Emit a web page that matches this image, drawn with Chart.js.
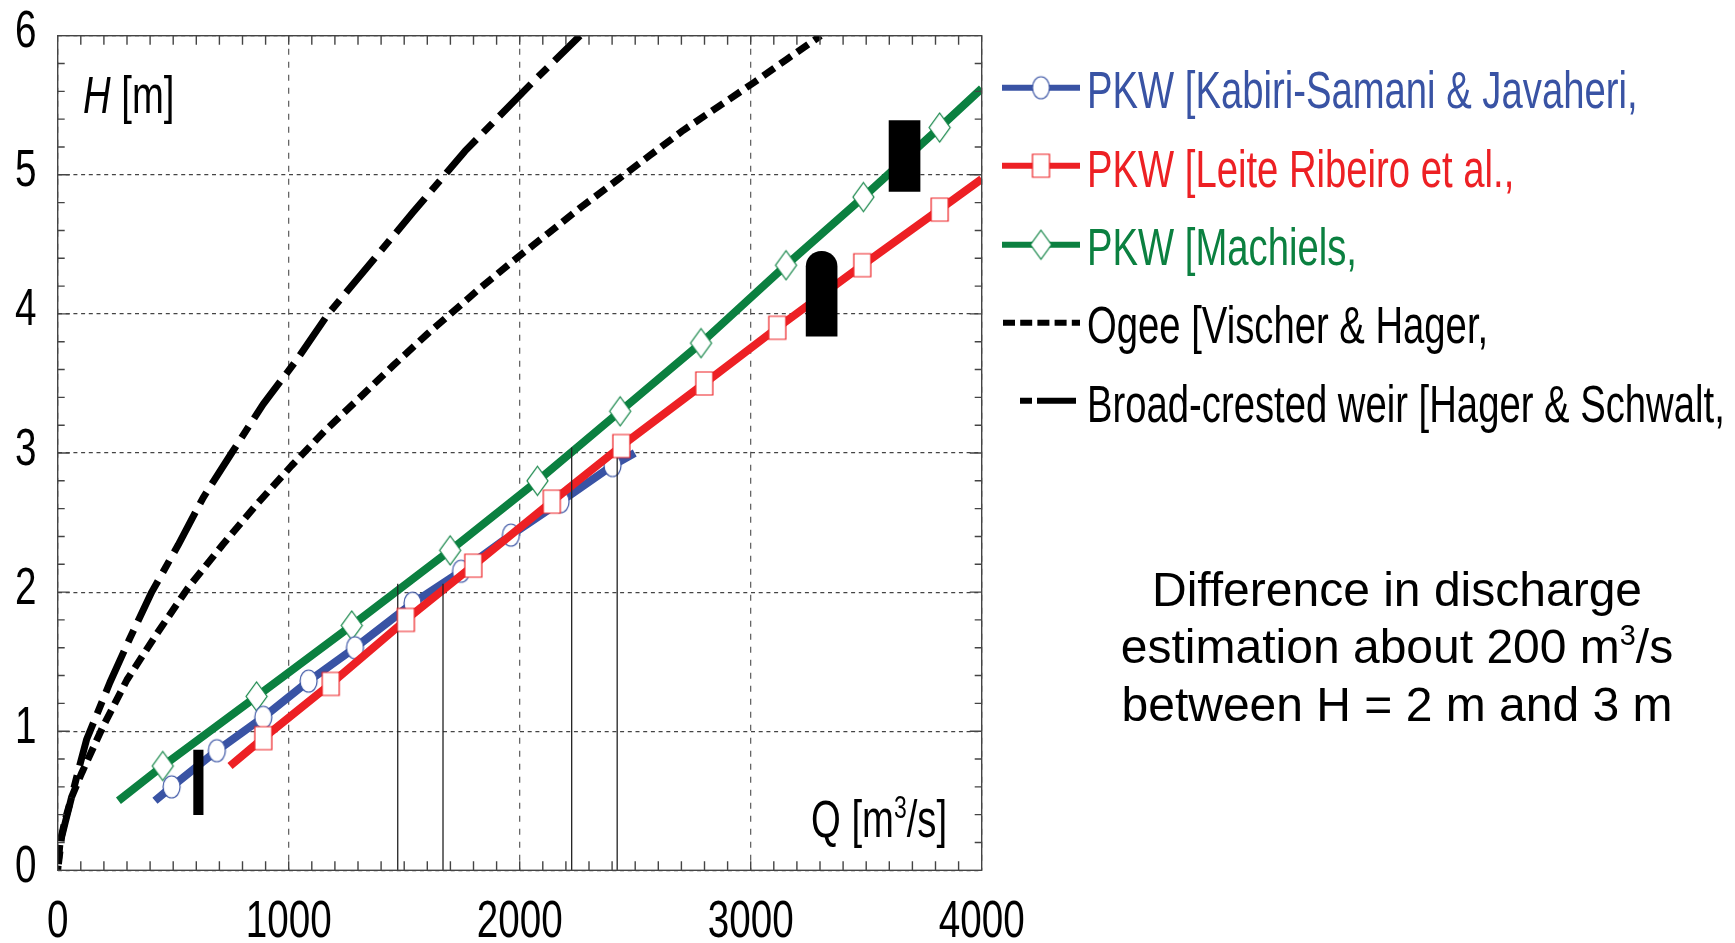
<!DOCTYPE html>
<html><head><meta charset="utf-8">
<style>
html,body{margin:0;padding:0;background:#fff;overflow:hidden}
#wrap{position:relative;width:1735px;height:943px;overflow:hidden}
canvas{position:absolute;left:0;top:0}
.t{position:absolute;white-space:nowrap;font-family:"Liberation Sans",Arial,sans-serif;transform-origin:0 0;line-height:1;color:#000}
.n{font-size:51px;transform:scaleX(.75)}
.d{font-size:48px;text-align:center;width:700px;left:1047px}
sup{font-size:.6em;line-height:0;vertical-align:.62em}
</style>
<script src="https://cdn.jsdelivr.net/npm/chart.js@4"></script>
</head><body><div id="wrap">
<canvas id="c" width="1735" height="943"></canvas>
<div class="t n" style="left:83px;top:70px"><i>H</i> [m]</div>
<div class="t n" style="left:811px;top:794px">Q [m<sup>3</sup>/s]</div>
<div class="t n" style="left:1087px;top:65px;color:#3953a4">PKW [Kabiri-Samani &amp; Javaheri,</div>
<div class="t n" style="left:1087px;top:144px;color:#ed2024">PKW [Leite Ribeiro et al.,</div>
<div class="t n" style="left:1087px;top:222px;color:#0b8040">PKW [Machiels,</div>
<div class="t n" style="left:1087px;top:300px">Ogee [Vischer &amp; Hager,</div>
<div class="t n" style="left:1087px;top:379px">Broad-crested weir [Hager &amp; Schwalt,</div>
<div class="t d" style="top:566px">Difference in discharge</div>
<div class="t d" style="top:623px">estimation about 200 m<sup>3</sup>/s</div>
<div class="t d" style="top:681px">between H = 2 m and 3 m</div>
</div>
<script>
// Values
const xTicks = [0, 1000, 2000, 3000, 4000];
const yTicks = [0, 1, 2, 3, 4, 5, 6];

const kabiriQ = [421, 493, 689, 890, 1086, 1287, 1536, 1746, 1962, 2177, 2402, 2498];
const kabiriH = [0.50, 0.60, 0.86, 1.10, 1.36, 1.60, 1.92, 2.15, 2.41, 2.65, 2.91, 3.00];

const leiteQ = [746, 890, 1182, 1507, 1799, 2139, 2440, 2799, 3115, 3483, 3818, 4000];
const leiteH = [0.75, 0.95, 1.34, 1.80, 2.19, 2.65, 3.05, 3.50, 3.90, 4.35, 4.75, 4.97];

const machielsQ = [263, 455, 861, 1273, 1699, 2077, 2435, 2785, 3153, 3488, 3818, 4000];
const machielsH = [0.50, 0.75, 1.25, 1.76, 2.30, 2.80, 3.30, 3.79, 4.35, 4.84, 5.34, 5.62];

const ogeeQ = [0, 10, 32, 61, 104, 195, 300, 429, 564, 714, 861, 1013, 1157, 1309, 1453, 1603, 1825, 1971, 2124, 2268, 2420, 2564, 2708, 2860, 3011, 3156, 3303];
const ogeeH = [0, 0.20, 0.36, 0.53, 0.70, 1.03, 1.37, 1.70, 2.03, 2.34, 2.63, 2.91, 3.16, 3.40, 3.63, 3.86, 4.18, 4.38, 4.58, 4.77, 4.96, 5.14, 5.32, 5.49, 5.66, 5.83, 6.00];

const broadQ = [0, 17, 32, 82, 125, 226, 313, 407, 522, 630, 753, 889, 1035, 1171, 1538, 1763, 2059, 2261];
const broadH = [0, 0.24, 0.34, 0.67, 0.94, 1.35, 1.67, 2.00, 2.34, 2.68, 3.00, 3.35, 3.67, 4.00, 4.73, 5.17, 5.67, 6.00];

const guideQ = [1472, 1668, 2225, 2422];
const guideTop = [2.06, 2.06, 3.04, 3.04];

const blockQ = [609, 3307, 3666];
const blockLow = [0.40, 3.84, 4.88];
const blockHigh = [0.865, 4.45, 5.39];

const BLUE = '#3953a4', RED = '#ed2024', GREEN = '#0b8040';
const pts = (xs, ys) => xs.map((x, i) => ({x, y: ys[i]}));

function marker(w, h, color, kind) {
  const c = document.createElement('canvas');
  c.width = w + 4; c.height = h + 4;
  const g = c.getContext('2d');
  g.translate(c.width / 2, c.height / 2);
  g.fillStyle = '#fff'; g.strokeStyle = color; g.lineWidth = 1.2;
  g.beginPath();
  if (kind === 'e') g.ellipse(0, 0, w / 2, h / 2, 0, 0, Math.PI * 2);
  if (kind === 'r') g.rect(-w / 2, -h / 2, w, h);
  if (kind === 'd') { g.moveTo(0, -h / 2); g.lineTo(w / 2, 0); g.lineTo(0, h / 2); g.lineTo(-w / 2, 0); g.closePath(); }
  g.fill(); g.stroke();
  return c;
}
const mkCircle = marker(17, 22, BLUE, 'e');
const mkSquare = marker(17, 23, RED, 'r');
const mkDiamond = marker(21, 29, GREEN, 'd');

const inner = a => a.map((_, i) => (i === 0 || i === a.length - 1) ? 0 : 8);

const lineBase = {type: 'line', tension: 0, borderCapStyle: 'butt', borderJoinStyle: 'round', fill: false, pointRadius: 0};

const datasets = [
  {type: 'bar', label: 'block 1', data: [{x: blockQ[0], y: [blockLow[0], blockHigh[0]]}], backgroundColor: '#000', barThickness: 9.5, grouped: false, borderSkipped: false, order: 0},
  {type: 'bar', label: 'block 2', data: [{x: blockQ[1], y: [blockLow[1], blockHigh[1]]}], backgroundColor: '#000', barThickness: 31, grouped: false, borderSkipped: false, borderRadius: {topLeft: 15.5, topRight: 15.5, bottomLeft: 0, bottomRight: 0}, order: 0},
  {type: 'bar', label: 'block 3', data: [{x: blockQ[2], y: [blockLow[2], blockHigh[2]]}], backgroundColor: '#000', barThickness: 31, grouped: false, borderSkipped: false, order: 0},
  {...lineBase, label: 'PKW [Leite Ribeiro et al., markers', data: pts(leiteQ, leiteH), showLine: false, pointStyle: mkSquare, pointRadius: inner(leiteQ), order: 1},
  ...guideQ.map((q, i) => ({...lineBase, label: 'guide ' + (i + 1), data: [{x: q, y: 0}, {x: q, y: guideTop[i]}], borderColor: '#222', borderWidth: 1.3, order: 2})),
  {...lineBase, label: 'PKW [Leite Ribeiro et al.,', data: pts(leiteQ, leiteH), borderColor: RED, borderWidth: 8, clip: 0, order: 3},
  {...lineBase, label: 'PKW [Kabiri-Samani & Javaheri,', data: pts(kabiriQ, kabiriH), borderColor: BLUE, borderWidth: 8, pointStyle: mkCircle, pointRadius: inner(kabiriQ), order: 4},
  {...lineBase, label: 'PKW [Machiels,', data: pts(machielsQ, machielsH), borderColor: GREEN, borderWidth: 8, pointStyle: mkDiamond, pointRadius: inner(machielsQ), clip: 0, order: 5},
  // dashed curves are traced from the top down so the dash phase lines up at the top edge
  {...lineBase, label: 'Ogee [Vischer & Hager,', data: pts(ogeeQ, ogeeH).reverse(), borderColor: '#000', borderWidth: 7, borderDash: [13.5, 7.2], borderDashOffset: 5.5, order: 6},
  {...lineBase, label: 'Broad-crested weir [Hager & Schwalt,', data: pts(broadQ, broadH).reverse(), borderColor: '#000', borderWidth: 7, borderDash: [45, 10, 13, 10], borderDashOffset: 9.3, order: 7},
];

const frame = {
  id: 'frame',
  afterDatasetsDraw(chart) {
    const {ctx, chartArea: a, scales: {x, y}} = chart;
    ctx.save();
    ctx.strokeStyle = '#444'; ctx.lineWidth = 1.4;
    ctx.strokeRect(a.left, a.top, a.right - a.left, a.bottom - a.top);
    ctx.beginPath();
    for (let q = 100; q < 4000; q += 100) {
      const p = x.getPixelForValue(q);
      ctx.moveTo(p, a.top); ctx.lineTo(p, a.top + 9);
      ctx.moveTo(p, a.bottom); ctx.lineTo(p, a.bottom - 9);
    }
    for (let k = 1; k < 30; k++) {
      const p = y.getPixelForValue(k / 5);
      const len = k % 5 === 0 ? 12 : 7;
      ctx.moveTo(a.left, p); ctx.lineTo(a.left + len, p);
      ctx.moveTo(a.right, p); ctx.lineTo(a.right - len, p);
    }
    ctx.stroke();
    ctx.restore();
  }
};

// Tick labels come from the scales; they are only condensed horizontally when painted.
const condensedTicks = {
  id: 'condensedTicks',
  afterDraw(chart) {
    const {ctx, scales: {x, y}} = chart;
    const K = 0.75;
    ctx.save();
    ctx.fillStyle = '#000';
    ctx.font = '51.5px "Liberation Sans", Arial, sans-serif';
    ctx.textBaseline = 'alphabetic';
    x.ticks.forEach((t, i) => {
      ctx.save();
      ctx.translate(x.getPixelForTick(i), 936.5);
      ctx.scale(K, 1);
      ctx.textAlign = 'center';
      ctx.fillText(String(t.value), 0, 0);
      ctx.restore();
    });
    y.ticks.forEach((t, i) => {
      ctx.save();
      ctx.translate(36.5, y.getPixelForTick(i) + 11.5);
      ctx.scale(K, 1);
      ctx.textAlign = 'right';
      ctx.fillText(String(t.value), 0, 0);
      ctx.restore();
    });
    ctx.restore();
  }
};

const legendKeys = {
  id: 'legendKeys',
  afterDraw(chart) {
    const ctx = chart.ctx;
    ctx.save();
    const bars = [[BLUE, 87.7, mkCircle], [RED, 165.7, mkSquare], [GREEN, 244.7, mkDiamond]];
    ctx.lineCap = 'butt';
    ctx.lineWidth = 6;
    bars.forEach(([col, yy, m]) => {
      ctx.strokeStyle = col;
      ctx.beginPath(); ctx.moveTo(1002, yy); ctx.lineTo(1080, yy); ctx.stroke();
      ctx.drawImage(m, 1041 - m.width / 2, yy - m.height / 2);
    });
    ctx.strokeStyle = '#000';
    ctx.setLineDash([12, 5.2]);
    ctx.beginPath(); ctx.moveTo(1003, 322.7); ctx.lineTo(1080, 322.7); ctx.stroke();
    ctx.setLineDash([12, 5, 39, 0]);
    ctx.beginPath(); ctx.moveTo(1020, 400.7); ctx.lineTo(1076, 400.7); ctx.stroke();
    ctx.restore();
  }
};

new Chart(document.getElementById('c'), {
  type: 'line',
  data: {datasets},
  plugins: [frame, condensedTicks, legendKeys],
  options: {
    responsive: false,
    animation: false,
    layout: {padding: {left: 0, top: 35.7, right: 753.3, bottom: 0.7}},
    plugins: {legend: {display: false}, tooltip: {enabled: false}},
    scales: {
      x: {
        type: 'linear', min: 0, max: 4000, offset: false,
        afterBuildTicks: s => { s.ticks = xTicks.map(v => ({value: v})); },
        afterFit: s => { s.height = 72; s.paddingLeft = 0; s.paddingRight = 0; },
        grid: {offset: false, color: '#666', lineWidth: 1.3, drawTicks: false, tickLength: 0},
        border: {display: false, dash: [6, 7]},
        ticks: {display: false, autoSkip: false}
      },
      y: {
        type: 'linear', min: 0, max: 6,
        afterBuildTicks: s => { s.ticks = yTicks.map(v => ({value: v})); },
        afterFit: s => { s.width = 57.7; s.paddingTop = 0; s.paddingBottom = 0; },
        grid: {color: '#444', lineWidth: 1.2, drawTicks: false, tickLength: 0},
        border: {display: false, dash: [4, 3.7]},
        ticks: {display: false, autoSkip: false}
      }
    }
  }
});
</script>
</body></html>
